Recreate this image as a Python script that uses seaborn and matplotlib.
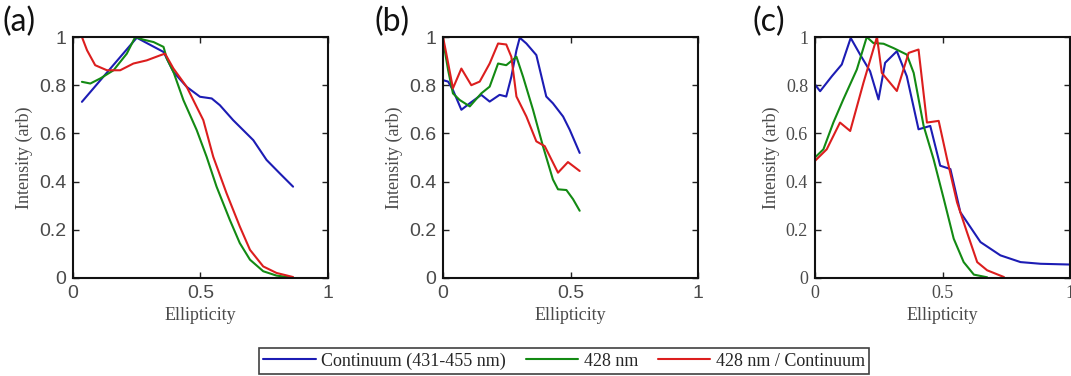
import numpy as np
import pandas as pd
import matplotlib
matplotlib.use("Agg")
import matplotlib.pyplot as plt
import seaborn as sns

sns.set_theme(style="white")
plt.rcParams["font.family"] = ["Liberation Sans", "DejaVu Sans"]

SERIES = ["Continuum (431-455 nm)", "428 nm", "428 nm / Continuum"]
COLORS = ["#1c1cb4", "#138a13", "#dc1e1e"]

# ---- panel (a) ----
a_cont_x = [0.035, 0.25, 0.355, 0.394, 0.446, 0.498, 0.544, 0.576, 0.628, 0.707, 0.759, 0.811, 0.863]
a_cont_y = [0.731, 0.997, 0.938, 0.855, 0.793, 0.752, 0.745, 0.717, 0.655, 0.572, 0.49, 0.434, 0.379]
a_428_x = [0.035, 0.068, 0.107, 0.159, 0.211, 0.244, 0.276, 0.316, 0.355, 0.368, 0.394, 0.433, 0.485,
           0.524, 0.563, 0.615, 0.654, 0.694, 0.746, 0.798, 0.85]
a_428_y = [0.814, 0.807, 0.828, 0.862, 0.931, 1.0, 0.989, 0.979, 0.959, 0.910, 0.855, 0.738, 0.614,
           0.503, 0.379, 0.241, 0.145, 0.076, 0.028, 0.010, 0.003]
a_ratio_x = [0.035, 0.055, 0.087, 0.133, 0.185, 0.237, 0.289, 0.342, 0.361, 0.394, 0.446, 0.485, 0.511,
             0.55, 0.602, 0.654, 0.694, 0.746, 0.798, 0.863]
a_ratio_y = [1.0, 0.945, 0.883, 0.862, 0.862, 0.89, 0.903, 0.924, 0.931, 0.869, 0.793, 0.71, 0.655,
             0.503, 0.352, 0.214, 0.117, 0.048, 0.021, 0.004]

# ---- panel (b) ----
b_cont_x = [0.0, 0.02, 0.039, 0.072, 0.105, 0.150, 0.183, 0.222, 0.248, 0.268, 0.288, 0.301, 0.327,
            0.366, 0.405, 0.431, 0.471, 0.497, 0.536]
b_cont_y = [0.821, 0.815, 0.78, 0.698, 0.725, 0.76, 0.732, 0.76, 0.753, 0.835, 0.945, 0.997, 0.973,
            0.925, 0.753, 0.725, 0.67, 0.615, 0.519]
b_428_x = [0.0, 0.02, 0.039, 0.065, 0.105, 0.150, 0.183, 0.216, 0.248, 0.288, 0.314, 0.353, 0.392,
           0.431, 0.451, 0.484, 0.510, 0.536]
b_428_y = [0.986, 0.863, 0.766, 0.739, 0.712, 0.766, 0.794, 0.890, 0.883, 0.918, 0.835, 0.698, 0.547,
           0.409, 0.368, 0.365, 0.327, 0.279]
b_ratio_x = [0.0, 0.013, 0.039, 0.072, 0.111, 0.144, 0.183, 0.216, 0.248, 0.268, 0.288, 0.327, 0.366,
             0.399, 0.425, 0.451, 0.490, 0.536]
b_ratio_y = [1.0, 0.931, 0.787, 0.869, 0.8, 0.815, 0.890, 0.973, 0.969, 0.918, 0.753, 0.670, 0.567,
             0.547, 0.492, 0.437, 0.481, 0.444]

# ---- panel (c) ----
c_cont_x = [0.0, 0.02, 0.066, 0.105, 0.14, 0.177, 0.216, 0.249, 0.275, 0.321, 0.360, 0.406, 0.452,
            0.491, 0.531, 0.570, 0.649, 0.727, 0.806, 0.885, 0.996]
c_cont_y = [0.803, 0.775, 0.837, 0.886, 0.996, 0.927, 0.858, 0.741, 0.893, 0.941, 0.837, 0.617, 0.631,
            0.466, 0.452, 0.273, 0.149, 0.094, 0.066, 0.059, 0.056]
c_428_x = [0.0, 0.033, 0.072, 0.111, 0.164, 0.203, 0.229, 0.269, 0.308, 0.36, 0.387, 0.426, 0.465,
           0.505, 0.544, 0.583, 0.623, 0.675]
c_428_y = [0.5, 0.534, 0.645, 0.741, 0.865, 1.0, 0.975, 0.972, 0.954, 0.927, 0.851, 0.631, 0.493,
           0.328, 0.163, 0.066, 0.014, 0.003]
c_ratio_x = [0.0, 0.046, 0.098, 0.138, 0.19, 0.243, 0.262, 0.321, 0.367, 0.406, 0.439, 0.485, 0.518,
             0.557, 0.596, 0.636, 0.675, 0.741]
c_ratio_y = [0.486, 0.534, 0.645, 0.61, 0.81, 1.0, 0.851, 0.776, 0.934, 0.948, 0.645, 0.652, 0.493,
             0.314, 0.190, 0.066, 0.032, 0.004]

PANELS = [
    ("(a)", [(a_cont_x, a_cont_y), (a_428_x, a_428_y), (a_ratio_x, a_ratio_y)]),
    ("(b)", [(b_cont_x, b_cont_y), (b_428_x, b_428_y), (b_ratio_x, b_ratio_y)]),
    ("(c)", [(c_cont_x, c_cont_y), (c_428_x, c_428_y), (c_ratio_x, c_ratio_y)]),
]

TICKS = [0, 0.5, 1]
TICK_LABELS = ["0", "0.5", "1"]
YTICKS = [0, 0.2, 0.4, 0.6, 0.8, 1]
YTICK_LABELS = ["0", "0.2", "0.4", "0.6", "0.8", "1"]

W, H = 1071, 376
fig = plt.figure(figsize=(W / 100, H / 100), dpi=100)
lefts = [73, 443, 815]
tag_x = [3, 374, 752]
serif = ["Liberation Serif", "DejaVu Serif"]
gray = "#4a4a4a"

handles = None
for i, (tag, series) in enumerate(PANELS):
    top, bottom = 37, 278
    ax = fig.add_axes([lefts[i] / W, 1 - bottom / H, 255 / W, (bottom - top) / H])
    frames = []
    for name, (xs, ys) in zip(SERIES, series):
        frames.append(pd.DataFrame({"Ellipticity": xs, "Intensity": ys, "series": name}))
    df = pd.concat(frames, ignore_index=True)
    sns.lineplot(data=df, x="Ellipticity", y="Intensity", hue="series",
                 hue_order=SERIES, palette=COLORS, estimator=None, sort=False,
                 linewidth=1.5, ax=ax, legend=(i == 0))
    if i == 0:
        handles, labels = ax.get_legend_handles_labels()
        ax.get_legend().remove()
    ax.set_xlim(0, 1)
    ax.set_ylim(0, 1)
    ax.set_xticks(TICKS)
    ax.set_yticks(YTICKS)
    if i < 2:
        ax.set_xticklabels(TICK_LABELS, fontsize=14, color=gray)
        ax.set_yticklabels(YTICK_LABELS, fontsize=14, color=gray)
    else:
        ax.set_xticklabels(TICK_LABELS, fontsize=13, color=gray, family=serif)
        ax.set_yticklabels(YTICK_LABELS, fontsize=13, color=gray, family=serif)
    ax.tick_params(direction="in", length=4, width=1, top=True, right=True,
                   bottom=True, left=True, color="#222222", pad=5)
    for sp in ax.spines.values():
        sp.set_visible(True)
        sp.set_color("#111111")
        sp.set_linewidth(1.5)
    ax.set_xlabel("Ellipticity", family=serif, fontsize=13, color=gray, labelpad=4)
    ax.set_ylabel("Intensity (arb)", family=serif, fontsize=13, color=gray, labelpad=4)
    ax.set_facecolor("white")
    fig.text(tag_x[i] / W, 1 - 22 / H, tag, fontsize=23, family=["Lato", "DejaVu Sans"],
             color="#111111", va="center", ha="left")

leg = fig.legend(handles, SERIES, loc="lower center", bbox_to_anchor=(564 / W, 0.0),
                 ncol=3, frameon=True, fancybox=False, edgecolor="#111111",
                 prop={"family": serif, "size": 13}, handlelength=2.9, handletextpad=0.3,
                 columnspacing=1.1, borderpad=0.25, borderaxespad=0.1)
leg.get_frame().set_linewidth(1.2)

fig.savefig("out.png", dpi=100, facecolor="white")
